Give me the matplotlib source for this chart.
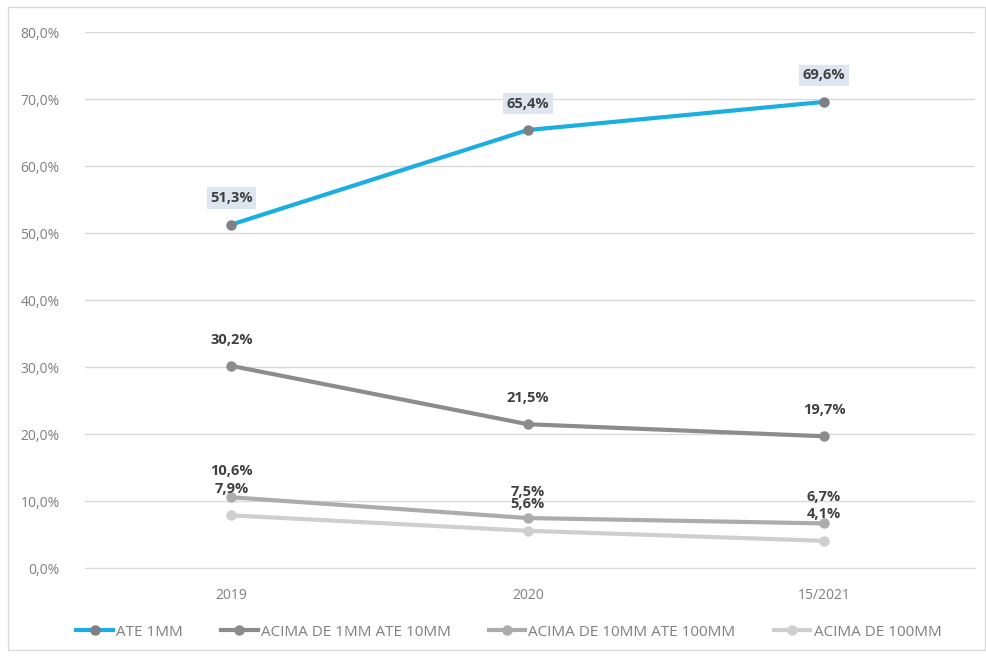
import matplotlib
matplotlib.use("Agg")
import matplotlib.pyplot as plt
from matplotlib.patches import Rectangle

categories = ["2019", "2020", "15/2021"]
series_names = ["ATE 1MM", "ACIMA DE 1MM ATE 10MM", "ACIMA DE 10MM ATE 100MM", "ACIMA DE 100MM"]
ate_1mm = [51.3, 65.4, 69.6]
acima_1mm_10mm = [30.2, 21.5, 19.7]
acima_10mm_100mm = [10.6, 7.5, 6.7]
acima_100mm = [7.9, 5.6, 4.1]
yticks = [0, 10, 20, 30, 40, 50, 60, 70, 80]

series = [ate_1mm, acima_1mm_10mm, acima_10mm_100mm, acima_100mm]
line_colors = ["#1aafe0", "#8c8c8c", "#acacac", "#cfcfcf"]
marker_colors = ["#7f7f86", "#8c8c8c", "#acacac", "#cfcfcf"]

plt.rcParams['font.family'] = ['Open Sans', 'DejaVu Sans']
fig = plt.figure(figsize=(9.86, 6.57), dpi=100)
fig.patches.append(Rectangle((8/986, 7/657), 977/986, 643/657, transform=fig.transFigure,
                             fill=False, edgecolor="#d9d9d9", linewidth=1))
ax = fig.add_axes([0.086, 0.135, 0.903, 0.816])

x = list(range(len(categories)))
for i, (vals, name) in enumerate(zip(series, series_names)):
    ax.plot(x, vals, color=line_colors[i], linewidth=3, marker="o", markersize=6.5,
            markerfacecolor=marker_colors[i], markeredgecolor=marker_colors[i],
            label=name, zorder=3 + (4 - i))

def fmt(v):
    return f"{v:.1f}".replace(".", ",") + "%"

for xi, v in zip(x, ate_1mm):
    ax.annotate(fmt(v), (xi, v), xytext=(0, 19), textcoords="offset points", ha="center", va="center",
                fontsize=10.5, fontweight="bold", color="#404040",
                bbox=dict(boxstyle="square,pad=0.25", facecolor="#dde5f0", edgecolor="none"))
for vals in series[1:]:
    for xi, v in zip(x, vals):
        ax.annotate(fmt(v), (xi, v), xytext=(0, 19), textcoords="offset points", ha="center", va="center",
                    fontsize=10.5, fontweight="bold", color="#404040", zorder=10)

ax.set_xlim(-0.495, 2.51)
ax.set_ylim(0, 80)
ax.set_yticks(yticks)
ax.set_yticklabels([f"{t},0%" for t in yticks])
ax.set_xticks(x)
ax.set_xticklabels(categories)
ax.tick_params(axis="both", length=0, labelsize=10, labelcolor="#7f7f7f")
ax.tick_params(axis="x", pad=14)
ax.tick_params(axis="y", pad=18)
ax.grid(axis="y", color="#d9d9d9", linewidth=1)
ax.set_axisbelow(True)
for s in ["top", "right", "left"]:
    ax.spines[s].set_visible(False)
ax.spines["bottom"].set_color("#d9d9d9")

leg = fig.legend(loc="center", bbox_to_anchor=(0.516, 1 - 632/657), ncol=4, frameon=False,
                 fontsize=11, handlelength=2.4, columnspacing=2.5, handletextpad=0.2)
for t in leg.get_texts():
    t.set_color("#7f7f7f")

fig.savefig("out.png", dpi=100)
